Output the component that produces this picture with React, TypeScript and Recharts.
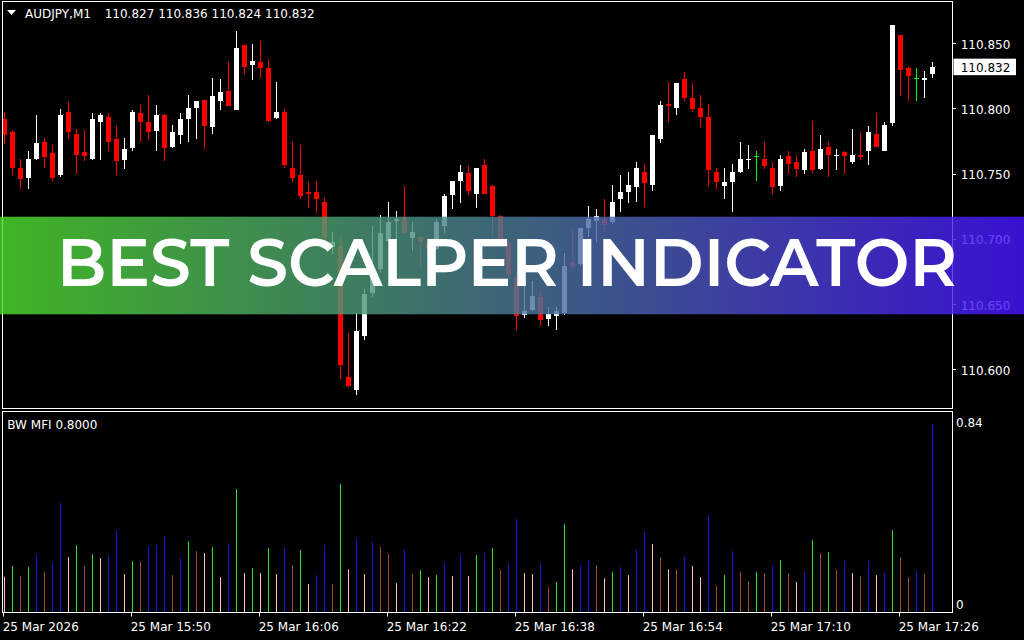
import React from 'react';
import { ComposedChart, Bar, XAxis, YAxis, Cell, ReferenceLine } from 'recharts';

// ---------- DATA ----------
const symbolName = 'AUDJPY,M1';
const indicatorName = 'BW MFI 0.8000';
const bannerText = 'BEST SCALPER INDICATOR';

const openP = [
  110.792, 110.782, 110.755, 110.747, 110.762, 110.775, 110.766, 110.749, 110.798, 110.781,
  110.767, 110.762, 110.790, 110.794, 110.777, 110.761, 110.770, 110.797, 110.790, 110.783,
  110.795, 110.771, 110.780, 110.792, 110.801, 110.807, 110.786, 110.806, 110.814, 110.799,
  110.849, 110.834, 110.836, 110.831, 110.793, 110.798, 110.755, 110.749, 110.736, 110.736,
  110.729, 110.694, 110.695, 110.595, 110.585, 110.626, 110.659, 110.677, 110.699, 110.714,
  110.717, 110.701, 110.702, 110.697, 110.693, 110.710, 110.734, 110.745, 110.751, 110.735,
  110.757, 110.741, 110.718, 110.697, 110.671, 110.642, 110.646, 110.656, 110.639, 110.641,
  110.644, 110.683, 110.681, 110.709, 110.714, 110.716, 110.713, 110.731, 110.736, 110.740,
  110.752, 110.742, 110.777, 110.804, 110.801, 110.823, 110.808, 110.801, 110.794, 110.752,
  110.741, 110.744, 110.752, 110.761, 110.764, 110.762, 110.755, 110.741, 110.764, 110.759,
  110.753, 110.768, 110.754, 110.771, 110.764, 110.767, 110.759, 110.765, 110.768, 110.781,
  110.768, 110.789, 110.857, 110.831, 110.824, 110.822, 110.827,
];
const highP = [
  110.798, 110.784, 110.762, 110.768, 110.795, 110.778, 110.772, 110.800, 110.805, 110.785,
  110.784, 110.797, 110.797, 110.797, 110.787, 110.778, 110.799, 110.803, 110.811, 110.803,
  110.796, 110.788, 110.797, 110.811, 110.806, 110.807, 110.824, 110.823, 110.836, 110.860,
  110.849, 110.850, 110.852, 110.838, 110.821, 110.800, 110.775, 110.772, 110.744, 110.745,
  110.732, 110.706, 110.703, 110.628, 110.644, 110.662, 110.710, 110.719, 110.729, 110.722,
  110.741, 110.713, 110.703, 110.703, 110.716, 110.735, 110.745, 110.757, 110.756, 110.755,
  110.762, 110.742, 110.719, 110.700, 110.675, 110.665, 110.668, 110.661, 110.648, 110.648,
  110.690, 110.709, 110.709, 110.726, 110.723, 110.731, 110.742, 110.749, 110.752, 110.759,
  110.758, 110.780, 110.806, 110.821, 110.820, 110.828, 110.820, 110.811, 110.804, 110.755,
  110.755, 110.758, 110.775, 110.772, 110.768, 110.775, 110.759, 110.765, 110.768, 110.765,
  110.769, 110.791, 110.780, 110.775, 110.769, 110.768, 110.785, 110.782, 110.787, 110.797,
  110.790, 110.864, 110.857, 110.833, 110.831, 110.829, 110.836,
];
const lowP = [
  110.773, 110.749, 110.739, 110.739, 110.761, 110.755, 110.745, 110.748, 110.777, 110.750,
  110.760, 110.761, 110.761, 110.768, 110.749, 110.754, 110.768, 110.775, 110.776, 110.768,
  110.760, 110.770, 110.773, 110.775, 110.777, 110.769, 110.781, 110.799, 110.802, 110.799,
  110.827, 110.822, 110.824, 110.790, 110.792, 110.755, 110.744, 110.731, 110.724, 110.720,
  110.696, 110.689, 110.593, 110.587, 110.581, 110.623, 110.656, 110.674, 110.697, 110.699,
  110.704, 110.691, 110.678, 110.690, 110.692, 110.705, 110.723, 110.728, 110.734, 110.724,
  110.735, 110.702, 110.698, 110.670, 110.631, 110.640, 110.645, 110.634, 110.634, 110.631,
  110.642, 110.677, 110.680, 110.702, 110.698, 110.706, 110.712, 110.721, 110.728, 110.729,
  110.725, 110.737, 110.774, 110.790, 110.795, 110.806, 110.798, 110.786, 110.741, 110.739,
  110.731, 110.721, 110.751, 110.754, 110.745, 110.754, 110.735, 110.737, 110.750, 110.748,
  110.750, 110.751, 110.753, 110.748, 110.753, 110.750, 110.758, 110.761, 110.757, 110.771,
  110.768, 110.787, 110.810, 110.806, 110.806, 110.808, 110.824,
];
const closeP = [
  110.780, 110.755, 110.746, 110.762, 110.774, 110.763, 110.747, 110.795, 110.782, 110.765,
  110.764, 110.792, 110.795, 110.775, 110.760, 110.769, 110.798, 110.790, 110.782, 110.795,
  110.770, 110.782, 110.792, 110.801, 110.806, 110.787, 110.810, 110.813, 110.802, 110.847,
  110.832, 110.837, 110.831, 110.791, 110.798, 110.757, 110.747, 110.733, 110.735, 110.731,
  110.701, 110.698, 110.604, 110.588, 110.630, 110.658, 110.671, 110.705, 110.713, 110.716,
  110.705, 110.706, 110.698, 110.693, 110.713, 110.733, 110.745, 110.752, 110.737, 110.755,
  110.735, 110.718, 110.700, 110.673, 110.641, 110.645, 110.657, 110.638, 110.643, 110.645,
  110.680, 110.679, 110.709, 110.716, 110.718, 110.711, 110.729, 110.736, 110.742, 110.755,
  110.743, 110.780, 110.803, 110.802, 110.820, 110.808, 110.800, 110.794, 110.753, 110.744,
  110.744, 110.752, 110.762, 110.762, 110.764, 110.756, 110.740, 110.762, 110.758, 110.754,
  110.767, 110.753, 110.769, 110.765, 110.765, 110.764, 110.765, 110.763, 110.782, 110.771,
  110.788, 110.864, 110.830, 110.825, 110.824, 110.824, 110.832,
];

const mfiValues = [
  0.159, 0.206, 0.161, 0.201, 0.259, 0.179, 0.224, 0.486, 0.246, 0.299,
  0.206, 0.259, 0.241, 0.255, 0.366, 0.170, 0.228, 0.224, 0.295, 0.299,
  0.339, 0.166, 0.241, 0.317, 0.272, 0.264, 0.290, 0.157, 0.308, 0.548,
  0.175, 0.197, 0.175, 0.286, 0.170, 0.286, 0.210, 0.277, 0.126, 0.166,
  0.299, 0.126, 0.570, 0.192, 0.330, 0.170, 0.312, 0.290, 0.259, 0.130,
  0.277, 0.170, 0.188, 0.157, 0.166, 0.224, 0.161, 0.259, 0.161, 0.255,
  0.264, 0.286, 0.188, 0.219, 0.415, 0.175, 0.170, 0.219, 0.112, 0.135,
  0.392, 0.192, 0.210, 0.232, 0.210, 0.152, 0.179, 0.201, 0.166, 0.277,
  0.357, 0.304, 0.246, 0.192, 0.192, 0.246, 0.206, 0.157, 0.432, 0.117,
  0.166, 0.272, 0.179, 0.139, 0.179, 0.175, 0.210, 0.232, 0.175, 0.135,
  0.179, 0.321, 0.264, 0.268, 0.188, 0.232, 0.175, 0.161, 0.232, 0.166,
  0.175, 0.366, 0.246, 0.157, 0.184, 0.170, 0.840,
];
// G = green (MFI up, vol up), N = brown (both down), B = blue (MFI up, vol down), P = pink (MFI down, vol up)
const mfiZones = (
  'PGNGBNBBPG' + 'NGPBBPGNBB' + 'BNBGNPGPBG' + 'PGPGPBNGPB' + 'BNGPBPBNNP' +
  'BNGPGBPBPG' + 'BGNBBPPBNG' + 'GPBBNPGBPB' + 'BPNPNBPPBN' + 'GBNNGNBGNP' +
  'BGNGNBPNBP' + 'BGNNBNB'
).split('');

const timeTickIndex = [0, 16, 32, 48, 64, 80, 96, 112];
const timeTickLabels = [
  '25 Mar 2026', '25 Mar 15:50', '25 Mar 16:06', '25 Mar 16:22',
  '25 Mar 16:38', '25 Mar 16:54', '25 Mar 17:10', '25 Mar 17:26',
];
const priceTicks = [110.6, 110.65, 110.7, 110.75, 110.8, 110.85];
const priceDomain = [110.5705, 110.8823];
const mfiTicks = [0, 0.84];
const mfiDomain = [0, 0.84];

// ---------- derived tables ----------
const candles = openP.map((o, i) => ({ i, o, h: highP[i], l: lowP[i], c: closeP[i] }));
const mfiData = mfiValues.map((v, i) => ({ i, v, z: mfiZones[i] }));
const last = candles[candles.length - 1];

const zoneColor: Record<string, string> = {
  G: '#2fe62f',
  N: '#a0522d',
  B: '#1212e0',
  P: '#ffc0cb',
};

const FONT = 'DejaVu Sans, Verdana, sans-serif';

// ---------- shapes ----------
const CandleShape = (props: any) => {
  const { x, y, width, height, payload } = props;
  if (x == null || y == null || !payload) return null;
  const top = Math.min(y, y + height);
  const bot = Math.max(y, y + height);
  const { o, h, l, c } = payload;
  const span = h - l;
  const k = span > 0 ? (bot - top) / span : 0;
  const py = (p: number) => top + (h - p) * k;
  const wickX = Math.floor(x + width / 2);
  const doji = o === c;
  const bull = c > o;
  const color = doji ? '#00ff00' : bull ? '#ffffff' : '#ff0000';
  const wTop = Math.round(top);
  const wBot = Math.round(bot);
  const bTop = Math.round(py(Math.max(o, c)));
  const bBot = Math.round(py(Math.min(o, c)));
  return (
    <g>
      <rect x={wickX} y={wTop} width={1} height={Math.max(1, wBot - wTop)} fill={color} />
      <rect x={wickX - 2} y={bTop} width={5} height={Math.max(1, bBot - bTop)} fill={color} />
    </g>
  );
};

const HistShape = (props: any) => {
  const { x, y, width, height, payload } = props;
  if (x == null || y == null || !payload) return null;
  const top = Math.min(y, y + height);
  const h = Math.abs(height);
  return <rect x={Math.floor(x + width / 2)} y={top} width={1} height={h} fill={zoneColor[payload.z]} />;
};

const PriceTick = (props: any) => {
  const { x, y, payload } = props;
  return (
    <g>
      <rect x={953} y={Math.floor(y)} width={3} height={1} fill="#ffffff" />
      <text x={x} y={y + 5} fill="#ffffff" fontFamily={FONT} fontSize={12} textAnchor="start">
        {Number(payload.value).toFixed(3)}
      </text>
    </g>
  );
};

const MfiTick = (props: any) => {
  const { x, y, payload } = props;
  const v = Number(payload.value);
  const baseline = v > 0 ? y + 4 : y - 3.5;
  return (
    <text x={x} y={baseline} fill="#ffffff" fontFamily={FONT} fontSize={12} textAnchor="start">
      {v === 0 ? '0' : v.toFixed(2)}
    </text>
  );
};

const TimeTick = (props: any) => {
  const { x, y, payload } = props;
  const idx = timeTickIndex.indexOf(Number(payload.value));
  return (
    <g>
      <rect x={Math.floor(x - 0.5)} y={y} width={1} height={4} fill="#ffffff" />
      <text x={x - 1.3} y={y + 18.2} fill="#ffffff" fontFamily={FONT} fontSize={12} textAnchor="start">
        {idx >= 0 ? timeTickLabels[idx] : ''}
      </text>
    </g>
  );
};

const PriceTag = (props: any) => {
  const vb = props.viewBox || {};
  const yy = vb.y ?? 0;
  const xr = (vb.x ?? 0) + (vb.width ?? 0);
  return (
    <g>
      <rect x={xr + 1} y={yy - 8.5} width={62.5} height={16.5} fill="#ffffff" />
      <text x={xr + 8.2} y={yy + 4.8} fill="#000000" fontFamily={FONT} fontSize={12} textAnchor="start">
        {last.c.toFixed(3)}
      </text>
    </g>
  );
};

const MainChart = () => (
  <ComposedChart
    width={1024}
    height={410}
    data={candles}
    margin={{ top: 1.5, right: 0, bottom: 1.5, left: 0 }}
    barCategoryGap={0}
  >
    <XAxis dataKey="i" type="category" hide padding={{ left: 0, right: 16.5 }} allowDataOverflow />
    <YAxis
      orientation="right"
      width={71.5}
      domain={priceDomain}
      allowDataOverflow
      ticks={priceTicks}
      interval={0}
      axisLine={false}
      tickLine={false}
      tickSize={0}
      tickMargin={8.2}
      tick={<PriceTick />}
    />
    <Bar
      dataKey={(d: any) => [d.l, d.h]}
      barSize={5}
      shape={(p: any) => <CandleShape {...p} />}
      isAnimationActive={false}
    />
    <ReferenceLine y={last.c} stroke="none" ifOverflow="visible" label={(p: any) => <PriceTag {...p} />} />
  </ComposedChart>
);

const MfiChart = () => (
  <ComposedChart
    width={1024}
    height={640}
    data={mfiData}
    margin={{ top: 423.3, right: 0, bottom: 0, left: 0 }}
    barCategoryGap={0}
  >
    <XAxis
      dataKey="i"
      type="category"
      padding={{ left: 0, right: 16.5 }}
      height={27.5}
      ticks={timeTickIndex}
      interval={0}
      axisLine={false}
      tickLine={false}
      tickSize={0}
      tickMargin={0}
      tick={<TimeTick />}
    />
    <YAxis
      orientation="right"
      width={71.5}
      domain={mfiDomain}
      allowDataOverflow
      ticks={mfiTicks}
      interval={0}
      axisLine={false}
      tickLine={false}
      tickSize={0}
      tickMargin={3.5}
      tick={<MfiTick />}
    />
    <Bar dataKey="v" barSize={1} shape={(p: any) => <HistShape {...p} />} isAnimationActive={false}>
      {mfiData.map((d) => (
        <Cell key={d.i} fill={zoneColor[d.z]} />
      ))}
    </Bar>
  </ComposedChart>
);

export default function App() {
  return (
    <div
      style={{
        position: 'absolute',
        left: 0,
        top: 0,
        width: 1024,
        height: 640,
        background: '#000000',
        overflow: 'hidden',
      }}
    >
      <div style={{ position: 'absolute', left: 0, top: 0 }}>
        <MainChart />
      </div>
      <div style={{ position: 'absolute', left: 0, top: 0 }}>
        <MfiChart />
      </div>
      {/* panel frames */}
      <div style={{ position: 'absolute', left: 0, top: 0, width: 2, height: 640, background: '#000' }} />
      <div
        style={{
          position: 'absolute', left: 2, top: 1, width: 951, height: 408,
          border: '1px solid #ffffff', boxSizing: 'border-box',
        }}
      />
      <div
        style={{
          position: 'absolute', left: 2, top: 411, width: 951, height: 202,
          border: '1px solid #ffffff', boxSizing: 'border-box',
        }}
      />
      <svg
        width={1024}
        height={640}
        style={{ position: 'absolute', left: 0, top: 0, pointerEvents: 'none' }}
      >
        <defs>
          <linearGradient id="bannerGrad" x1="0" x2="1" y1="0" y2="0">
            <stop offset="0" stopColor="#4edd2c" />
            <stop offset="1" stopColor="#4714ff" />
          </linearGradient>
        </defs>
        <polygon points="7,10 16,10 11.5,15" fill="#ffffff" />
        <text x={25} y={18.3} fill="#ffffff" fontFamily={FONT} fontSize={12}>
          {symbolName}
        </text>
        <text x={104.7} y={18.3} fill="#ffffff" fontFamily={FONT} fontSize={12}>
          {`${last.o.toFixed(3)} ${last.h.toFixed(3)} ${last.l.toFixed(3)} ${last.c.toFixed(3)}`}
        </text>
        <text x={7.3} y={429.3} fill="#ffffff" fontFamily={FONT} fontSize={12}>
          {indicatorName}
        </text>
        <rect x={0} y={216.7} width={1024} height={97.6} fill="url(#bannerGrad)" opacity={0.82} />
        <text
          x={57}
          y={285.7}
          fill="#ffffff"
          fontFamily="Montserrat, 'Open Sans', sans-serif"
          fontWeight={600}
          fontSize={66}
          textLength={900}
          lengthAdjust="spacingAndGlyphs"
        >
          {bannerText}
        </text>
      </svg>
    </div>
  );
}
